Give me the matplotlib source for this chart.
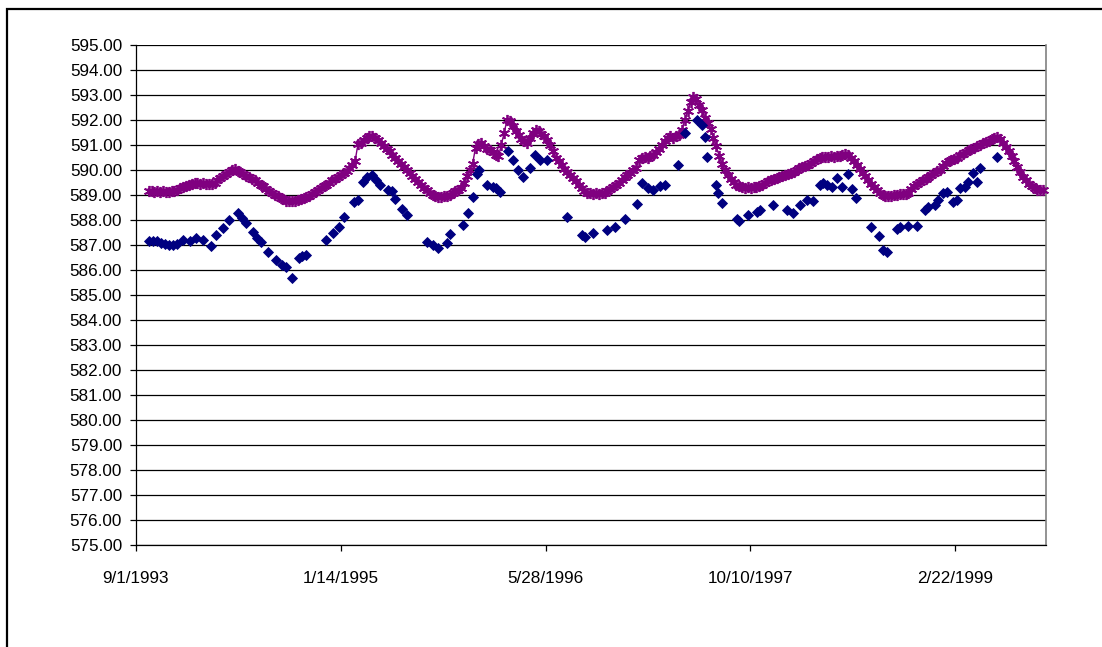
import numpy as np
import matplotlib
matplotlib.use("Agg")
import matplotlib.pyplot as plt
import matplotlib.dates as mdates
from matplotlib.ticker import FuncFormatter, MultipleLocator
from matplotlib.patches import Rectangle

plt.rcParams['font.family'] = ['Liberation Sans', 'DejaVu Sans']

# ---- data ----
start_date = np.datetime64('1993-09-01')

# Series 1 (navy diamonds): days since 9/1/1993 and levels
navy_days = [32, 42, 51, 61, 71, 81, 90, 100, 115, 132, 146, 164, 183, 195, 212, 227,
             249, 258, 269, 286, 296, 305, 322, 342, 357, 366, 381, 398, 406, 415,
             464, 481, 496, 508, 532, 542, 554, 565, 576, 586, 596, 615, 625, 632, 650, 662,
             711, 725, 737, 759, 767, 799, 811, 823, 833, 838, 857, 872, 880, 889,
             908, 921, 933, 945, 962, 974, 987, 1004, 1052, 1089, 1096, 1116, 1150, 1170,
             1194, 1223, 1236, 1250, 1263, 1280, 1292, 1324, 1341, 1370, 1382, 1389, 1394,
             1416, 1421, 1431, 1468, 1473, 1494, 1516, 1524, 1556, 1590, 1604, 1621, 1639,
             1653, 1670, 1677, 1687, 1700, 1712, 1724, 1738, 1748, 1758, 1795, 1814, 1824,
             1834, 1858, 1866, 1885, 1907, 1927, 1934, 1951, 1958, 1971, 1980, 1995, 2005,
             2012, 2024, 2032, 2044, 2054, 2061, 2103]
navy_vals = [587.15, 587.15, 587.18, 587.10, 587.05, 587.00, 587.02, 587.05, 587.20, 587.15,
             587.30, 587.20, 586.98, 587.40, 587.68, 588.00,
             588.28, 588.10, 587.88, 587.52, 587.30, 587.12, 586.72, 586.40, 586.20, 586.12,
             585.68, 586.48, 586.55, 586.62,
             587.20, 587.48, 587.72, 588.12, 588.72, 588.80, 589.52, 589.70, 589.80, 589.60,
             589.40, 589.20, 589.15, 588.85, 588.45, 588.22,
             587.12, 587.00, 586.88, 587.08, 587.45, 587.80, 588.28, 588.92, 589.85, 590.00,
             589.42, 589.32, 589.30, 589.12,
             590.78, 590.40, 590.00, 589.72, 590.08, 590.60, 590.40, 590.40, 588.12, 587.40,
             587.32, 587.48, 587.60, 587.72,
             588.04, 588.64, 589.48, 589.28, 589.20, 589.35, 589.40, 590.20, 591.48, 592.00,
             591.80, 591.32, 590.52,
             589.40, 589.08, 588.68, 588.04, 587.98, 588.20, 588.32, 588.40, 588.60, 588.40,
             588.28, 588.60, 588.80,
             588.75, 589.40, 589.48, 589.40, 589.32, 589.68, 589.32, 589.82, 589.25, 588.88,
             587.72, 587.36, 586.80,
             586.72, 587.64, 587.72, 587.76, 587.76, 588.40, 588.52, 588.60, 588.80, 589.08,
             589.12, 588.72, 588.80,
             589.28, 589.32, 589.52, 589.88, 589.52, 590.08, 590.52]

# Series 2 (purple asterisks): weekly readings starting 10/2/1993 (day 31)
purple_first_day = 31
purple_step_days = 7
purple_vals = [
    589.15, 589.18, 589.14, 589.16, 589.13, 589.15, 589.12, 589.14, 589.15,
    589.18, 589.22, 589.28, 589.32, 589.38, 589.42, 589.46, 589.48,
    589.50, 589.46, 589.48, 589.44, 589.46, 589.45,
    589.50, 589.60, 589.68, 589.78, 589.85, 589.92, 590.00,
    590.05,
    589.98, 589.92, 589.85, 589.78, 589.72, 589.64, 589.58, 589.50, 589.42, 589.35,
    589.26, 589.18, 589.10, 589.02, 588.95, 588.88, 588.82, 588.78, 588.76,
    588.78, 588.76, 588.80, 588.85, 588.88,
    588.92, 588.98, 589.05, 589.12, 589.20, 589.28, 589.35, 589.42, 589.50, 589.58,
    589.65, 589.72, 589.80, 589.88, 589.98, 590.08, 590.20, 590.35,
    591.05, 591.10, 591.20, 591.28, 591.35, 591.38,
    591.30, 591.20, 591.10, 590.98, 590.86, 590.75, 590.62, 590.50, 590.38, 590.26,
    590.14, 590.02, 589.90, 589.78, 589.66, 589.54, 589.42, 589.30, 589.20, 589.10,
    589.02, 588.96, 588.92,
    588.92, 588.95, 588.98, 589.02, 589.08, 589.15, 589.22, 589.30,
    589.50, 589.75, 590.00, 590.25,
    590.90, 591.05, 591.10, 590.95, 590.85, 590.80, 590.70, 590.60, 590.55,
    591.00, 591.50, 592.00, 591.95, 591.75, 591.55, 591.40, 591.25, 591.15, 591.10,
    591.30, 591.50, 591.60, 591.55, 591.45, 591.35,
    591.20, 591.00, 590.75, 590.50, 590.35, 590.20, 590.05, 589.92, 589.80, 589.68,
    589.55, 589.42, 589.30, 589.18, 589.10,
    589.08, 589.06, 589.08, 589.06, 589.08, 589.10, 589.16, 589.24, 589.32, 589.40,
    589.50, 589.60, 589.70, 589.80, 589.90, 590.00, 590.10,
    590.40, 590.50, 590.52, 590.50, 590.55, 590.60, 590.70, 590.85, 591.00, 591.15,
    591.30, 591.35, 591.30, 591.35, 591.40, 591.60, 592.00, 592.35, 592.70, 592.92,
    592.85, 592.60, 592.40, 592.10, 591.90, 591.65, 591.30, 590.95, 590.55, 590.25,
    590.00, 589.80, 589.65, 589.52, 589.42, 589.35, 589.32,
    589.30, 589.32, 589.30, 589.34, 589.33, 589.36, 589.40, 589.48, 589.55, 589.60,
    589.64, 589.68, 589.72, 589.76, 589.80, 589.84, 589.88,
    589.93, 590.00, 590.08, 590.14, 590.18, 590.22, 590.30, 590.38, 590.45, 590.50,
    590.52, 590.54, 590.52, 590.55, 590.53, 590.56, 590.55, 590.60, 590.66, 590.62,
    590.50, 590.35, 590.20, 590.05, 589.90, 589.75, 589.60, 589.45, 589.32, 589.20,
    589.08, 589.00, 588.95,
    588.95, 588.98, 589.00, 589.02, 589.03, 589.05, 589.05, 589.10,
    589.25, 589.38, 589.45, 589.52, 589.60, 589.66, 589.72, 589.80, 589.88, 589.95,
    590.02, 590.15, 590.28, 590.36, 590.40, 590.45, 590.50, 590.58, 590.65,
    590.72, 590.80, 590.86, 590.90, 590.95, 591.00, 591.08, 591.12, 591.18, 591.25,
    591.30, 591.33,
    591.25, 591.10, 590.92, 590.75, 590.55, 590.35, 590.12, 589.92, 589.72, 589.58,
    589.45, 589.35, 589.27, 589.22, 589.20, 589.22]

x_tick_days = [0, 500, 1000, 1500, 2000]
x_max_days = 2222
y_min, y_max = 575, 595

# ---- figure ----
W, H = 1102, 647
fig = plt.figure(figsize=(W / 100, H / 100), dpi=100)
fig.patch.set_facecolor('white')

# outer chart border (cut off at right/bottom like the reference)
fig.add_artist(Rectangle((7 / W, -0.05), 1.2, 1.05 - 9 / H, transform=fig.transFigure,
                         fill=False, edgecolor='black', linewidth=1.6, clip_on=False))

ax = fig.add_axes([136 / W, 1 - 545 / H, 910 / W, 500 / H])

navy_x = start_date + np.array(navy_days).astype('timedelta64[D]')
purple_days = purple_first_day + purple_step_days * np.arange(len(purple_vals))
purple_x = start_date + purple_days.astype('timedelta64[D]')

ax.plot(purple_x, purple_vals, color='#800080', linewidth=1.0,
        marker=(6, 2, 0), markersize=8, markeredgewidth=1.3,
        markeredgecolor='#800080', zorder=3, clip_on=False)
ax.plot(navy_x, navy_vals, linestyle='none', marker='D', markersize=5.1,
        color='#000080', markeredgecolor='#000080', markeredgewidth=0.6, zorder=4)

ax.set_ylim(y_min, y_max)
ax.set_xlim(start_date, start_date + np.timedelta64(x_max_days, 'D'))

ax.yaxis.set_major_locator(MultipleLocator(1))
ax.yaxis.set_major_formatter(FuncFormatter(lambda v, p: f"{v:.2f}"))
tick_dates = [start_date + np.timedelta64(d, 'D') for d in x_tick_days]
ax.set_xticks(tick_dates)

def fmt_date(v, pos):
    d = mdates.num2date(v)
    return f"{d.month}/{d.day}/{d.year}"

ax.xaxis.set_major_formatter(FuncFormatter(fmt_date))

ax.grid(axis='y', color='black', linewidth=0.9)
ax.set_axisbelow(True)
ax.spines['top'].set_visible(False)
ax.spines['right'].set_color('#808080')
ax.spines['right'].set_linewidth(1.2)
ax.spines['left'].set_color('black')
ax.spines['bottom'].set_color('black')
ax.spines['left'].set_linewidth(0.9)
ax.spines['bottom'].set_linewidth(0.9)

ax.tick_params(axis='y', direction='out', length=4, width=0.9, pad=6,
               labelsize=12.3, colors='black')
ax.tick_params(axis='x', direction='out', length=4, width=0.9, pad=15,
               labelsize=12.3, colors='black')

fig.savefig('out.png', dpi=100, facecolor='white')
